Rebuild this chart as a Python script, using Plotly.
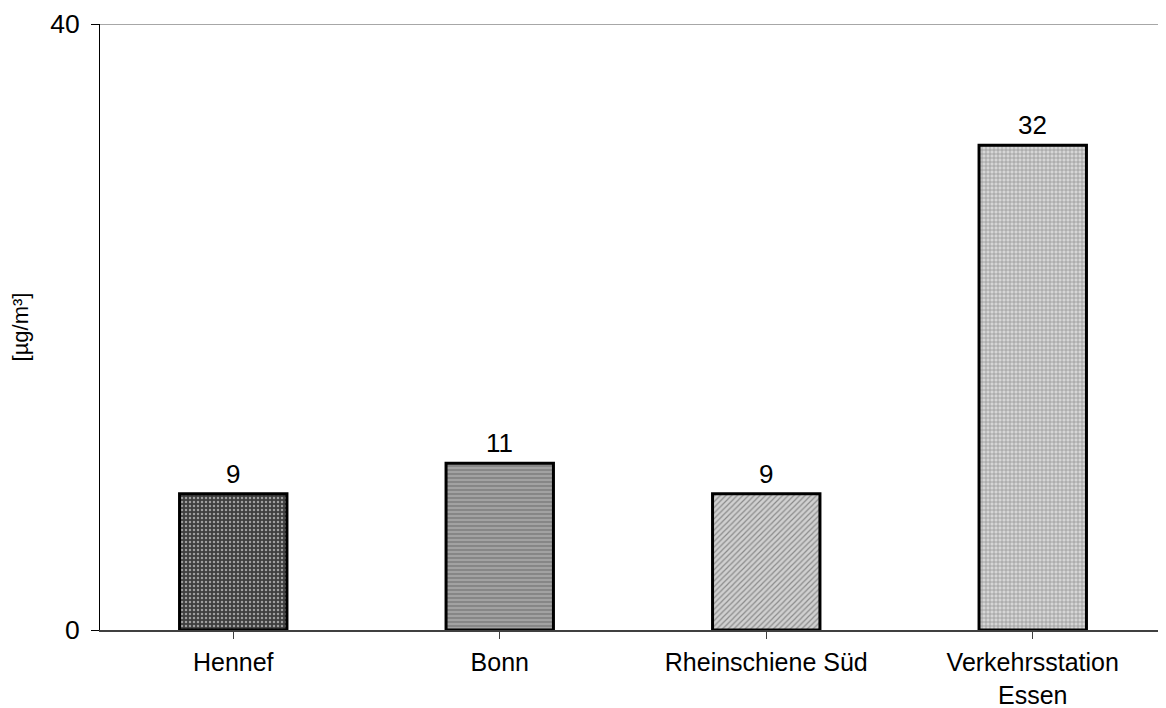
import plotly.graph_objects as go

categories = ["Hennef", "Bonn", "Rheinschiene Süd", "Verkehrsstation<br>Essen"]
values = [9, 11, 9, 32]
y_ticks = [0, 40]

bg_colors = ["#3e3e3e", "#a2a2a2", "#d0d0d0", "#d6d6d6"]
fg_colors = ["#5a5a5a", "#828282", "#9a9a9a", "#b0b0b0"]
shapes = [".", "-", "/", "+"]

FONT = "Liberation Sans, Arial, sans-serif"

fig = go.Figure()
fig.add_trace(go.Bar(
    x=list(range(len(categories))),
    y=values,
    width=0.403,
    marker=dict(
        color=bg_colors,
        line=dict(color="black", width=3),
        pattern=dict(shape=shapes, fgcolor=fg_colors,
                     size=4, solidity=0.3, fillmode="overlay"),
    ),
    showlegend=False,
))

for i, v in enumerate(values):
    fig.add_annotation(x=i, y=v, text=str(v), showarrow=False,
                       yanchor="bottom", yshift=3,
                       font=dict(size=26, color="black", family=FONT))

fig.add_shape(type="line", xref="paper", yref="y", x0=0, x1=1,
              y0=y_ticks[-1], y1=y_ticks[-1],
              line=dict(color="#8a8a8a", width=1.5), layer="below")

fig.update_layout(
    width=1158, height=700,
    margin=dict(l=92, r=0, t=16, b=78, autoexpand=False),
    paper_bgcolor="white", plot_bgcolor="white",
    font=dict(family=FONT, size=26, color="black"),
    xaxis=dict(
        tickmode="array", tickvals=list(range(len(categories))), ticktext=categories,
        range=[-0.5, 3.5], automargin=False,
        showline=True, linecolor="#404040", linewidth=2,
        ticks="outside", tickson="boundaries", ticklen=7, tickcolor="#404040",
        showgrid=False, zeroline=False, fixedrange=True,
        tickfont=dict(size=25), ticklabelstandoff=2,
    ),
    yaxis=dict(
        range=[0, 40], tickmode="array", tickvals=y_ticks, automargin=False,
        showline=True, linecolor="black", linewidth=1,
        ticks="outside", ticklen=8, tickcolor="black",
        showgrid=False, zeroline=False, tickfont=dict(size=26.5),
        ticklabelstandoff=6,
        title=dict(text="[µg/m³]", font=dict(size=22), standoff=17),
    ),
)

fig.write_html("out.html")
